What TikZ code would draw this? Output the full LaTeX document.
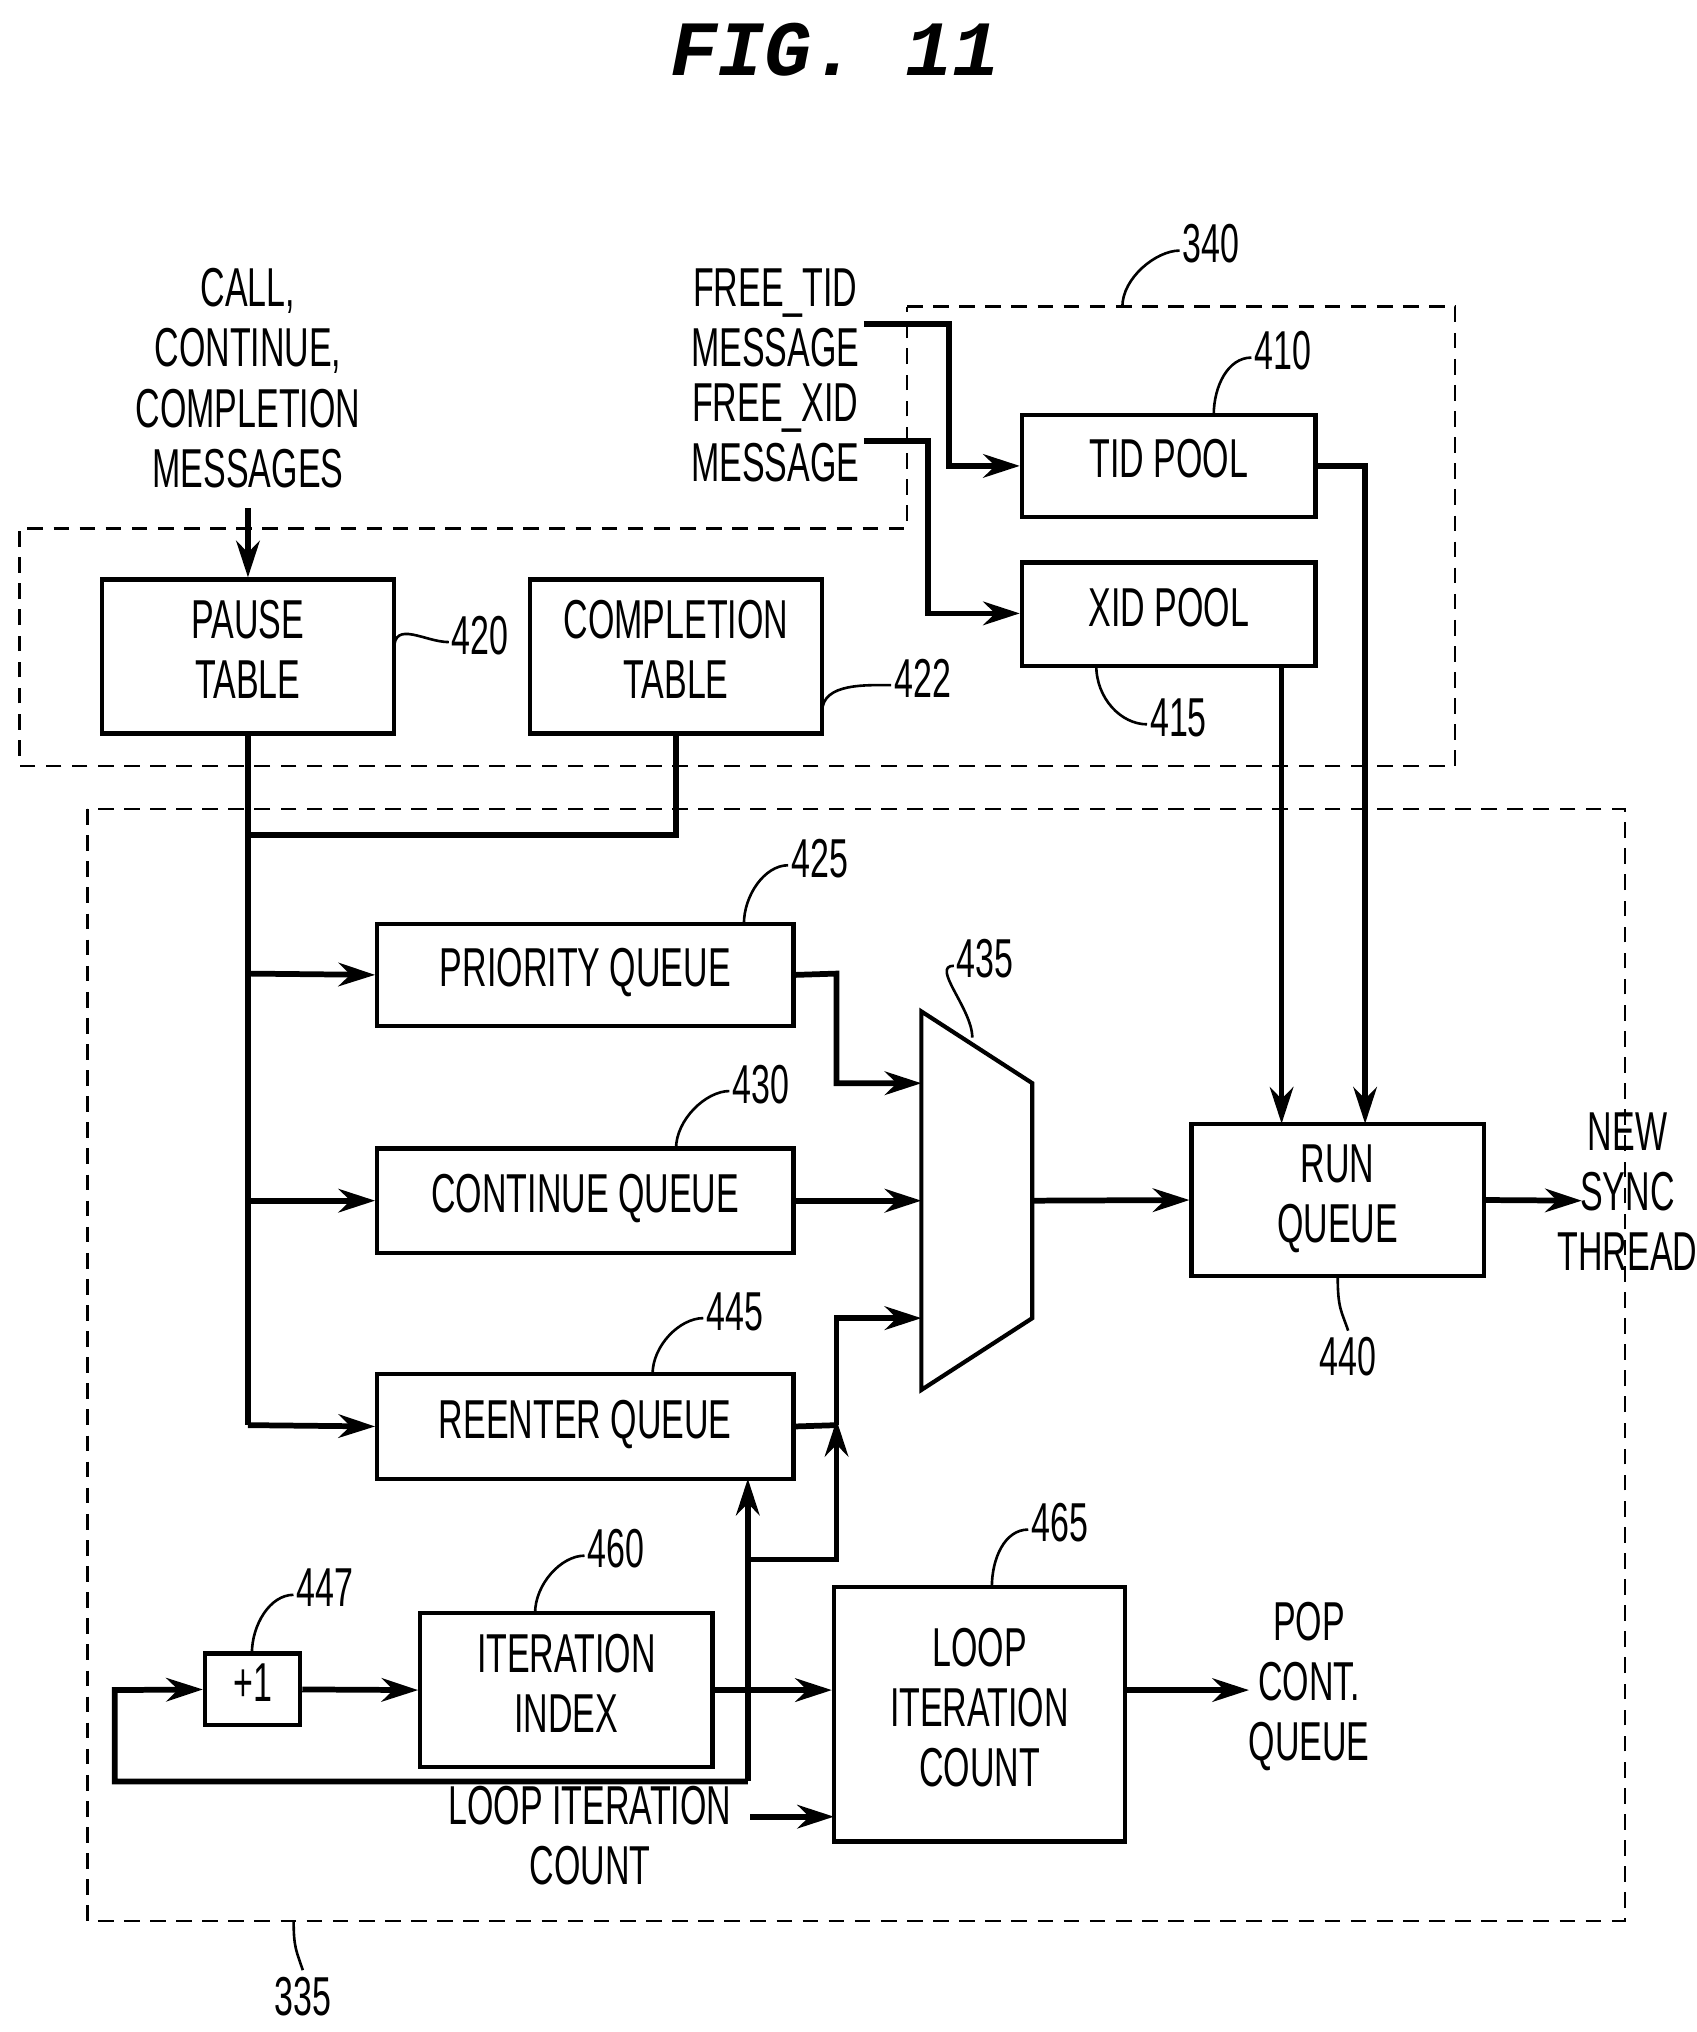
\documentclass[tikz,border=0pt]{standalone}
\usepackage{fontspec}
\setmainfont{Liberation Sans}
\newfontfamily\titlefont{Liberation Mono}
\usetikzlibrary{arrows.meta}
\newcommand{\sq}[1]{\scalebox{0.62}[1]{\begin{tabular}{@{}c@{}}#1\end{tabular}}}
\newcommand{\bx}[6]{\node[box,minimum width={(#4-#2)*0.5pt},minimum height={(#5-#3)*0.5pt}] (#1) at ({(#2+#4)/2},{(#3+#5)/2}) {\sq{#6}};}
\newcommand{\lbl}[5]{\node[lab] (#1) at (#2,#3) {\sq{#1}}; \draw[thin line] (#4,#5) .. controls +(0,-22) and +(-18,0) .. (#1.west);}
\begin{document}
\begin{tikzpicture}[x=0.5pt,y=-0.5pt,
  box/.style={draw,line width=1.6pt,inner sep=0pt,font=\fontsize{21}{23}\selectfont},
  lab/.style={inner sep=1pt,font=\fontsize{21}{23}\selectfont},
  txt/.style={inner sep=1pt,font=\fontsize{21}{23}\selectfont,align=center},
  thin line/.style={line width=1pt},
  w/.style={line width=2.2pt},
  a/.style={line width=2.2pt,-{Stealth[length=14pt,width=9pt]}},
  dsh/.style={line width=1pt,dash pattern=on 6pt off 4pt}]
\useasboundingbox (0,0) rectangle (1300,1557);
\node[font=\titlefont\bfseries\itshape\fontsize{30}{32}\selectfont] (title) at (640,38) {FIG.\ 11};
% dashed regions
\draw[dsh] (695,235) -- (1115,235) -- (1115,587) -- (15,587) -- (15,405) -- (695,405) -- cycle;
\draw[dsh] (67,620) rectangle (1245,1472);
% boxes
\bx{tid}{783}{318}{1008}{396}{TID POOL}
\bx{xid}{783}{431}{1008}{510}{XID POOL}
\bx{pause}{78}{444}{302}{562}{PAUSE\\TABLE}
\bx{comp}{406}{444}{630}{562}{COMPLETION\\TABLE}
\bx{pq}{289}{708}{608}{786}{PRIORITY QUEUE}
\bx{cq}{289}{880}{608}{960}{CONTINUE QUEUE}
\bx{rq}{289}{1053}{608}{1133}{REENTER QUEUE}
\bx{run}{913}{861}{1137}{978}{RUN\\QUEUE}
\bx{inc}{157}{1267}{230}{1322}{+1}
\bx{idx}{322}{1236}{546}{1354}{ITERATION\\INDEX}
\bx{lic}{639}{1216}{862}{1411}{LOOP\\ITERATION\\COUNT}
\draw[line width=1.6pt] (706,775) coordinate (m1) -- (791,830) -- (791,1010) -- (706,1065) -- cycle;
\coordinate (mout) at (791,920);
% texts
\node[txt] (msgs) at (190,295) {\sq{CALL,\\CONTINUE,\\COMPLETION\\MESSAGES}};
\node[txt] (ftid) at (594,249) {\sq{FREE\_TID\\MESSAGE}};
\node[txt] (fxid) at (594,337) {\sq{FREE\_XID\\MESSAGE}};
\node[txt] (nst) at (1247,918) {\sq{NEW\\SYNC\\THREAD}};
\node[txt] (pop) at (1003,1294) {\sq{POP\\CONT.\\QUEUE}};
\node[txt] (licin) at (452,1412) {\sq{LOOP ITERATION\\COUNT}};
% connectors
\draw[a] (msgs.south) -- (pause.north);
\draw[a] (662,248) -- (727,248) -- (727,357) -- (tid.west|-727,357);
\draw[a] (662,338) -- (711,338) -- (711,470) -- (xid.west|-711,470);
\draw[a] (tid.east) -- (1046,357) -- (1046,861);
\draw[a] (982,510) -- (982,861);
\draw[w] (pause.south) -- (190,1092);
\draw[w] (comp.south) -- (518,640) -- (190,640);
\draw[a] (190,746) -- (pq.west);
\draw[a] (190,920) -- (cq.west);
\draw[a] (190,1092) -- (rq.west);
\draw[a] (pq.east) -- (641,746) -- (641,830) -- (706,830);
\draw[a] (cq.east) -- (706,920);
\draw[w] (rq.east) -- (641,1092);
\draw[a] (641,1092) -- (641,1010) -- (706,1010);
\draw[a] (573,1195) -- (641,1195) -- (641,1088);
\draw[a] (573,1365) -- (573,1133);
\draw[a] (573,1365) -- (88,1365) -- (88,1295) -- (inc.west);
\draw[a] (inc.east) -- (idx.west);
\draw[a] (idx.east) -- (lic.west|-idx.east);
\draw[a] (mout) -- (run.west);
\draw[a] (run.east) -- (1212,920);
\draw[a] (lic.east|-862,1295) -- (957,1295);
\draw[a] (575,1392) -- (639,1392);
% labels
\lbl{340}{928}{192}{860}{235}
\lbl{410}{983}{274}{930}{318}
\lbl{420}{368}{492}{302}{497}
\lbl{422}{707}{525}{630}{545}
\lbl{425}{628}{663}{570}{708}
\lbl{430}{583}{836}{518}{880}
\lbl{445}{563}{1010}{500}{1053}
\lbl{435}{755}{740}{745}{795}
\lbl{447}{249}{1222}{193}{1267}
\lbl{460}{472}{1192}{410}{1236}
\lbl{465}{812}{1172}{760}{1216}
\node[lab] (415) at (903,555) {\sq{415}};
\draw[thin line] (840,510) .. controls +(0,25) and +(-20,0) .. (415.west);
\node[lab] (440) at (1033,1045) {\sq{440}};
\draw[thin line] (1025,978) .. controls +(0,25) and +(-5,-15) .. (440.north);
\node[lab] (335) at (232,1535) {\sq{335}};
\draw[thin line] (225,1472) .. controls +(0,20) and +(-5,-15) .. (335.north);
\end{tikzpicture}
\end{document}
